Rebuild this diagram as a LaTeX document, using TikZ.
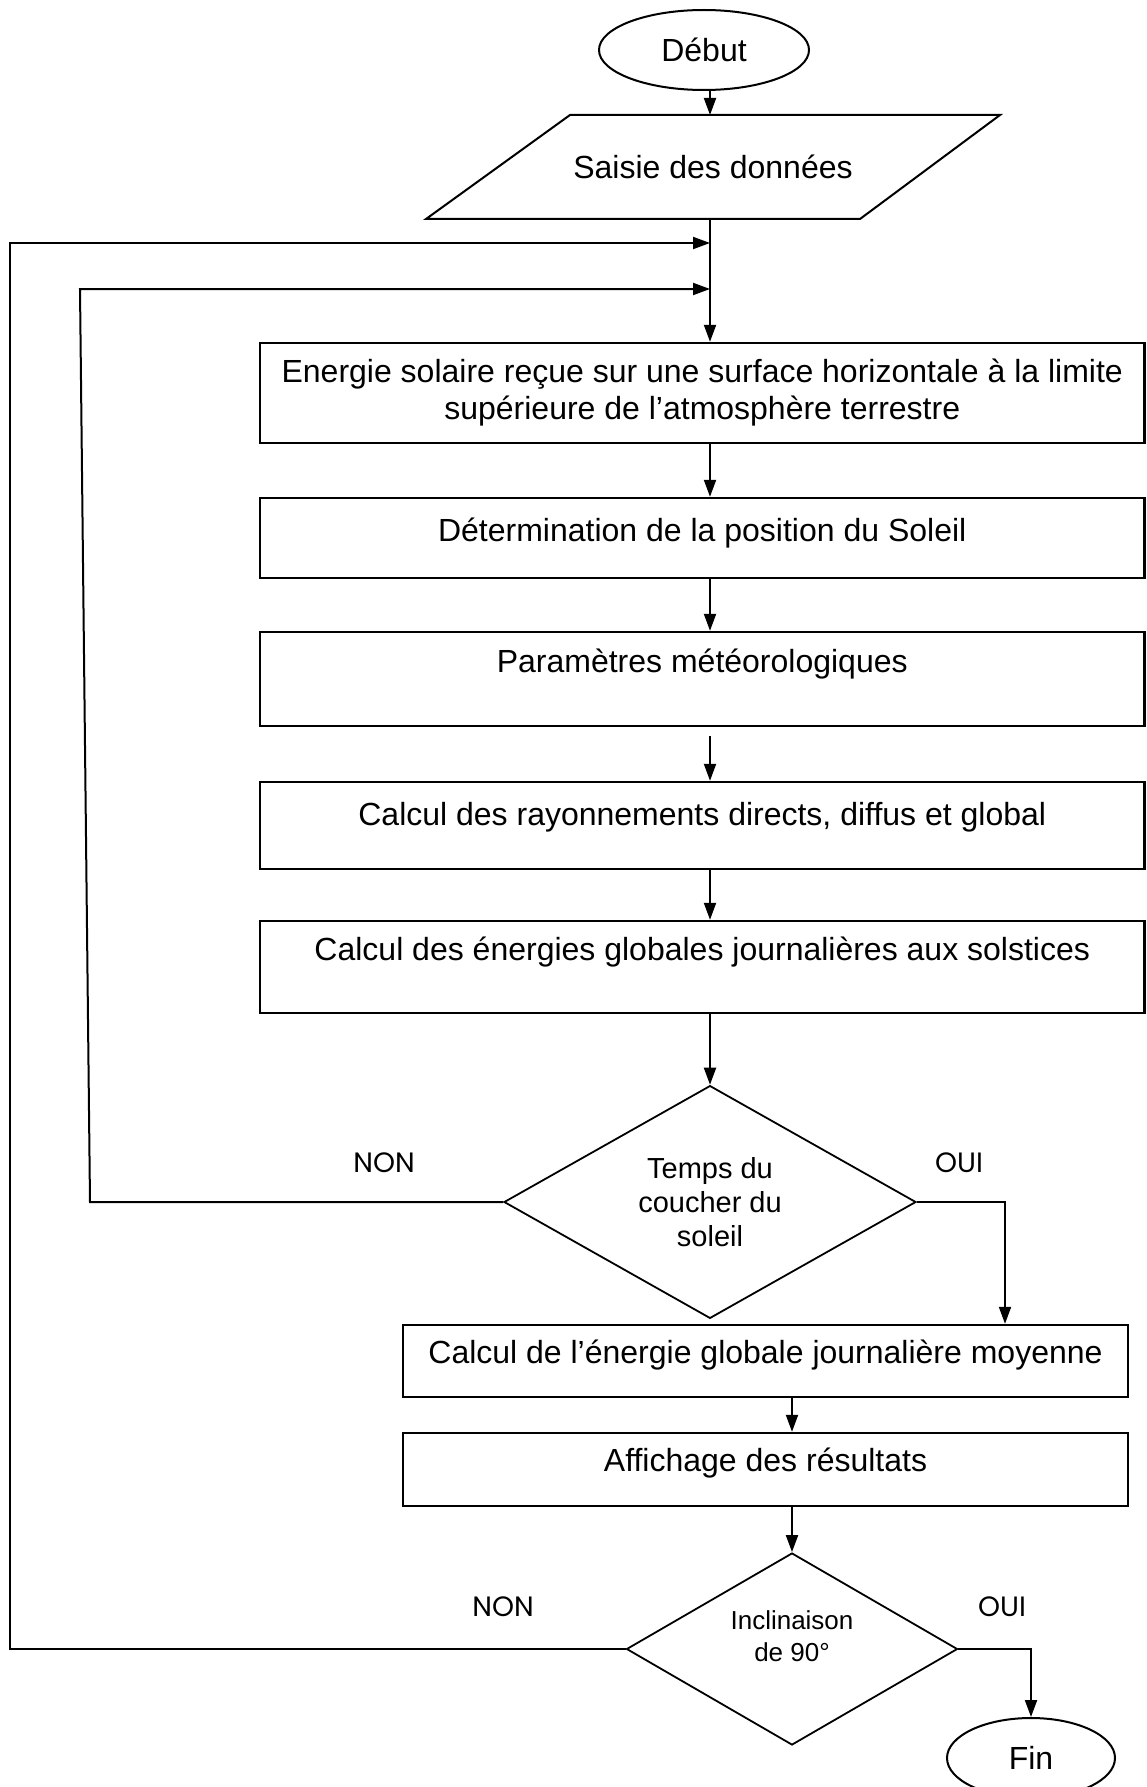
\documentclass[tikz,border=0pt]{standalone}
\usepackage{fontspec}
\setmainfont{Liberation Sans}
\newfontfamily\geofont{Poppins}
\usetikzlibrary{shapes.geometric,arrows.meta}
\newcommand\liftup[2]{\raisebox{#1}[\height][\depth]{#2}}
\begin{document}
\begin{tikzpicture}[x=1pt,y=-1pt,
  box/.style={draw, line width=2.4pt, rectangle, inner sep=0pt, align=center,
    font=\fontsize{32}{37}\selectfont},
  term/.style={draw, line width=2pt, ellipse, inner sep=0pt,
    font=\fontsize{32}{37}\selectfont},
  dec/.style={draw, line width=1.8pt, diamond, inner sep=0pt, align=center},
  lbl/.style={font=\geofont\fontsize{28}{32}\selectfont, inner sep=0pt},
  conn/.style={line width=2pt},
  arr/.style={conn, -{Triangle[length=17pt,width=12pt]}},
]
\useasboundingbox (0,0) rectangle (1146,1787);
\fill[white] (0,0) rectangle (1146,1787);

% axes of the vertical flow
\coordinate (axis) at (710,0);
\coordinate (axis2) at (792,0);

% start
\node[term, minimum width=210pt, minimum height=80pt] (debut) at (704,50) {Début};

% input parallelogram
\coordinate (p1) at (570,115);
\coordinate (p2) at (1000,115);
\coordinate (p3) at (860,219);
\coordinate (p4) at (426,219);
\draw[line width=2pt] (p1) -- (p2) -- (p3) -- (p4) -- cycle;
\node[inner sep=0pt, font=\fontsize{32}{37}\selectfont] (saisie) at (713,167) {Saisie des données};

% process boxes
\node[box, minimum width=884.5pt, minimum height=100pt] (b1) at (702.25,393)
  {Energie solaire reçue sur une surface horizontale à la limite\\supérieure de l’atmosphère terrestre};
\node[box, minimum width=884.5pt, minimum height=80pt] (b2) at (702.25,538)
  {\liftup{5pt}{Détermination de la position du Soleil}};
\node[box, minimum width=884.5pt, minimum height=94pt] (b3) at (702.25,679)
  {\liftup{15pt}{Paramètres météorologiques}};
\node[box, minimum width=884.5pt, minimum height=87pt] (b4) at (702.25,825.5)
  {\liftup{8pt}{Calcul des rayonnements directs, diffus et global}};
\node[box, minimum width=884.5pt, minimum height=92pt] (b5) at (702.25,967)
  {\liftup{15pt}{Calcul des énergies globales journalières aux solstices}};

% decision 1
\node[dec, minimum width=412pt, minimum height=218pt,
  font=\fontsize{29}{34}\selectfont] (d1) at (710,1202) {Temps du\\coucher du\\soleil};

\node[box, minimum width=725pt, minimum height=72pt] (b6) at (765.5,1361)
  {\liftup{6pt}{Calcul de l’énergie globale journalière moyenne}};
\node[box, minimum width=725pt, minimum height=73pt] (b7) at (765.5,1469.5)
  {\liftup{6pt}{Affichage des résultats}};

% decision 2
\node[dec, minimum width=331pt, minimum height=192pt,
  font=\fontsize{26}{32}\selectfont] (d2) at (792,1649) {\liftup{10pt}{\begin{tabular}{@{}c@{}}Inclinaison\\de 90°\end{tabular}}};

% end
\node[term, minimum width=168pt, minimum height=80pt] (fin) at (1031,1758) {Fin};

% labels
\node[lbl] (non1) at (384,1163) {NON};
\node[lbl] (oui1) at (959,1163) {OUI};
\node[lbl] (non2) at (503,1607) {NON};
\node[lbl] (oui2) at (1002,1607) {OUI};

% junctions and corners
\coordinate (j1) at (710,243);
\coordinate (j2) at (710,289);
\coordinate (o1) at (10,1649);
\coordinate (o2) at (10,243);
\coordinate (i1) at (90,1202);
\coordinate (i2) at (80,289);
\coordinate (r1) at (1005,1202);

% main flow
\draw[arr] (debut.south -| axis) -- (p1 -| axis);
\draw[arr] (p4 -| axis) -- (b1.north -| axis);
\draw[arr] (b1.south -| axis) -- (b2.north -| axis);
\draw[arr] (b2.south -| axis) -- (b3.north -| axis);
\draw[arr, shorten <=9pt] (b3.south -| axis) -- (b4.north -| axis);
\draw[arr] (b4.south -| axis) -- (b5.north -| axis);
\draw[arr] (b5.south -| axis) -- (d1.north);
\draw[arr] (d1.east) -- (r1) -- (b6.north -| r1);
\draw[arr] (b6.south -| axis2) -- (b7.north -| axis2);
\draw[arr] (b7.south -| axis2) -- (d2.north);
\draw[arr] (d2.east) -| (fin.north);

% loops
\draw[arr] (d1.west) -- (i1) -- (i2) -- (j2);
\draw[arr] (d2.west) -- (o1) -- (o2) -- (j1);
\end{tikzpicture}
\end{document}
